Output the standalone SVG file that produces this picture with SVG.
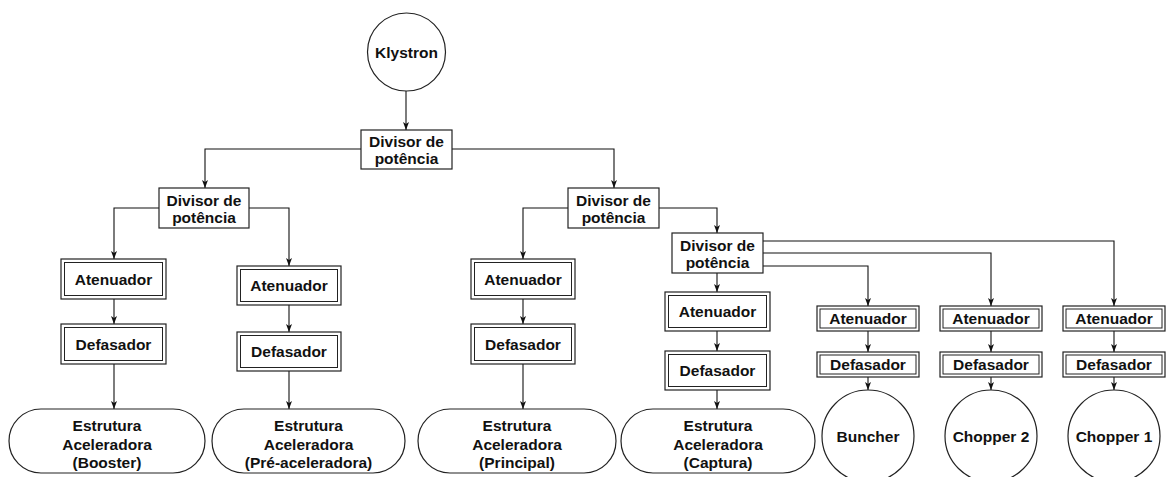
<svg xmlns="http://www.w3.org/2000/svg" width="1169" height="477" viewBox="0 0 1169 477">
  <defs>
    <style>
      .box { fill: #ffffff; stroke: #222222; stroke-width: 1.2; }
      .inner { fill: none; stroke: #222222; stroke-width: 1; }
      .lbl { font-family: "Liberation Sans", Arial, Helvetica, sans-serif; font-weight: bold; font-size: 15.5px; fill: #111111; text-anchor: middle; }
      .wire { fill: none; stroke: #111111; stroke-width: 1.1; marker-end: url(#arrow); }
    </style>
    <marker id="arrow" markerUnits="userSpaceOnUse" markerWidth="10" markerHeight="8" viewBox="0 -4 10 8" refX="8" refY="0" orient="auto">
      <path d="M0,-3 L8,0 L0,3 L2,0 Z" fill="#111111"/>
    </marker>
  </defs>
  <rect width="1169" height="477" fill="#ffffff"/>

  <!-- connectors -->
  <g id="connectors">
    <path class="wire" d="M406,91 V130"/>
    <path class="wire" d="M361,149 H205 V188"/>
    <path class="wire" d="M452,149 H614 V188"/>
    <path class="wire" d="M159,208 H114 V259"/>
    <path class="wire" d="M249,208 H289 V266"/>
    <path class="wire" d="M114,299 V324"/>
    <path class="wire" d="M114,364 V409"/>
    <path class="wire" d="M289,305 V332"/>
    <path class="wire" d="M289,371 V409"/>
    <path class="wire" d="M568,208 H523 V259"/>
    <path class="wire" d="M659,208 H717 V233"/>
    <path class="wire" d="M523,299 V324"/>
    <path class="wire" d="M523,364 V409"/>
    <path class="wire" d="M717,273 V292"/>
    <path class="wire" d="M717,331 V351"/>
    <path class="wire" d="M717,390 V409"/>
    <path class="wire" d="M763,241 H1114 V306"/>
    <path class="wire" d="M763,253 H991 V306"/>
    <path class="wire" d="M763,266 H868 V306"/>
    <path class="wire" d="M868,331 V352"/>
    <path class="wire" d="M991,331 V352"/>
    <path class="wire" d="M1114,331 V352"/>
    <path class="wire" d="M868,377 V390"/>
    <path class="wire" d="M991,377 V390"/>
    <path class="wire" d="M1114,377 V390"/>
  </g>

  <!-- source -->
  <g id="klystron">
    <circle class="box" cx="406.5" cy="52" r="39"/>
    <text class="lbl" x="406.5" y="57.5">Klystron</text>
  </g>

  <!-- power dividers -->
  <g id="divisor-0">
    <rect class="box" x="361" y="130" width="91" height="39"/>
    <text class="lbl" x="406.5" y="147">Divisor de</text>
    <text class="lbl" x="406.5" y="164">potência</text>
  </g>
  <g id="divisor-1">
    <rect class="box" x="159" y="188" width="90" height="40"/>
    <text class="lbl" x="204" y="205.5">Divisor de</text>
    <text class="lbl" x="204" y="222.5">potência</text>
  </g>
  <g id="divisor-2">
    <rect class="box" x="568" y="188" width="91" height="40"/>
    <text class="lbl" x="613.5" y="205.5">Divisor de</text>
    <text class="lbl" x="613.5" y="222.5">potência</text>
  </g>
  <g id="divisor-3">
    <rect class="box" x="672" y="233" width="91" height="40"/>
    <text class="lbl" x="717.5" y="250.5">Divisor de</text>
    <text class="lbl" x="717.5" y="267.5">potência</text>
  </g>

  <!-- booster branch -->
  <g id="atenuador-booster">
    <rect class="box" x="61" y="259" width="105" height="40"/>
    <rect class="inner" x="64.5" y="262.5" width="98" height="33"/>
    <text class="lbl" x="113.5" y="284.5">Atenuador</text>
  </g>
  <g id="defasador-booster">
    <rect class="box" x="61" y="324" width="105" height="40"/>
    <rect class="inner" x="64.5" y="327.5" width="98" height="33"/>
    <text class="lbl" x="113.5" y="349.5">Defasador</text>
  </g>
  <g id="estrutura-booster">
    <rect class="box" x="9" y="409" width="196" height="64" rx="32" ry="32"/>
    <text class="lbl" x="107" y="430.5">Estrutura</text>
    <text class="lbl" x="107" y="449.5">Aceleradora</text>
    <text class="lbl" x="107" y="468">(Booster)</text>
  </g>

  <!-- pre-accelerator branch -->
  <g id="atenuador-pre">
    <rect class="box" x="237" y="266" width="104" height="39"/>
    <rect class="inner" x="240.5" y="269.5" width="97" height="32"/>
    <text class="lbl" x="289" y="291">Atenuador</text>
  </g>
  <g id="defasador-pre">
    <rect class="box" x="237" y="332" width="104" height="39"/>
    <rect class="inner" x="240.5" y="335.5" width="97" height="32"/>
    <text class="lbl" x="289" y="357">Defasador</text>
  </g>
  <g id="estrutura-pre">
    <rect class="box" x="212" y="409" width="193" height="64" rx="32" ry="32"/>
    <text class="lbl" x="308.5" y="430.5">Estrutura</text>
    <text class="lbl" x="308.5" y="449.5">Aceleradora</text>
    <text class="lbl" x="308.5" y="468">(Pré-aceleradora)</text>
  </g>

  <!-- main accelerator branch -->
  <g id="atenuador-principal">
    <rect class="box" x="471" y="259" width="104" height="40"/>
    <rect class="inner" x="474.5" y="262.5" width="97" height="33"/>
    <text class="lbl" x="523" y="284.5">Atenuador</text>
  </g>
  <g id="defasador-principal">
    <rect class="box" x="471" y="324" width="104" height="40"/>
    <rect class="inner" x="474.5" y="327.5" width="97" height="33"/>
    <text class="lbl" x="523" y="349.5">Defasador</text>
  </g>
  <g id="estrutura-principal">
    <rect class="box" x="418" y="409" width="198" height="64" rx="32" ry="32"/>
    <text class="lbl" x="517" y="430.5">Estrutura</text>
    <text class="lbl" x="517" y="449.5">Aceleradora</text>
    <text class="lbl" x="517" y="468">(Principal)</text>
  </g>

  <!-- capture branch -->
  <g id="atenuador-captura">
    <rect class="box" x="665" y="292" width="105" height="39"/>
    <rect class="inner" x="668.5" y="295.5" width="98" height="32"/>
    <text class="lbl" x="717.5" y="317">Atenuador</text>
  </g>
  <g id="defasador-captura">
    <rect class="box" x="665" y="351" width="105" height="39"/>
    <rect class="inner" x="668.5" y="354.5" width="98" height="32"/>
    <text class="lbl" x="717.5" y="376">Defasador</text>
  </g>
  <g id="estrutura-captura">
    <rect class="box" x="621" y="409" width="194" height="64" rx="32" ry="32"/>
    <text class="lbl" x="718" y="430.5">Estrutura</text>
    <text class="lbl" x="718" y="449.5">Aceleradora</text>
    <text class="lbl" x="718" y="468">(Captura)</text>
  </g>

  <!-- buncher branch -->
  <g id="atenuador-buncher">
    <rect class="box" x="817" y="306" width="102" height="25"/>
    <rect class="inner" x="820" y="309" width="96" height="19"/>
    <text class="lbl" x="868" y="324">Atenuador</text>
  </g>
  <g id="defasador-buncher">
    <rect class="box" x="817" y="352" width="102" height="25"/>
    <rect class="inner" x="820" y="355" width="96" height="19"/>
    <text class="lbl" x="868" y="370">Defasador</text>
  </g>
  <g id="buncher">
    <circle class="box" cx="868" cy="436" r="46"/>
    <text class="lbl" x="868" y="442">Buncher</text>
  </g>

  <!-- chopper 2 branch -->
  <g id="atenuador-chopper2">
    <rect class="box" x="940" y="306" width="102" height="25"/>
    <rect class="inner" x="943" y="309" width="96" height="19"/>
    <text class="lbl" x="991" y="324">Atenuador</text>
  </g>
  <g id="defasador-chopper2">
    <rect class="box" x="940" y="352" width="102" height="25"/>
    <rect class="inner" x="943" y="355" width="96" height="19"/>
    <text class="lbl" x="991" y="370">Defasador</text>
  </g>
  <g id="chopper2">
    <circle class="box" cx="991" cy="436" r="46"/>
    <text class="lbl" x="991" y="442">Chopper 2</text>
  </g>

  <!-- chopper 1 branch -->
  <g id="atenuador-chopper1">
    <rect class="box" x="1063" y="306" width="102" height="25"/>
    <rect class="inner" x="1066" y="309" width="96" height="19"/>
    <text class="lbl" x="1114" y="324">Atenuador</text>
  </g>
  <g id="defasador-chopper1">
    <rect class="box" x="1063" y="352" width="102" height="25"/>
    <rect class="inner" x="1066" y="355" width="96" height="19"/>
    <text class="lbl" x="1114" y="370">Defasador</text>
  </g>
  <g id="chopper1">
    <circle class="box" cx="1114" cy="436" r="46"/>
    <text class="lbl" x="1114" y="442">Chopper 1</text>
  </g>
</svg>
